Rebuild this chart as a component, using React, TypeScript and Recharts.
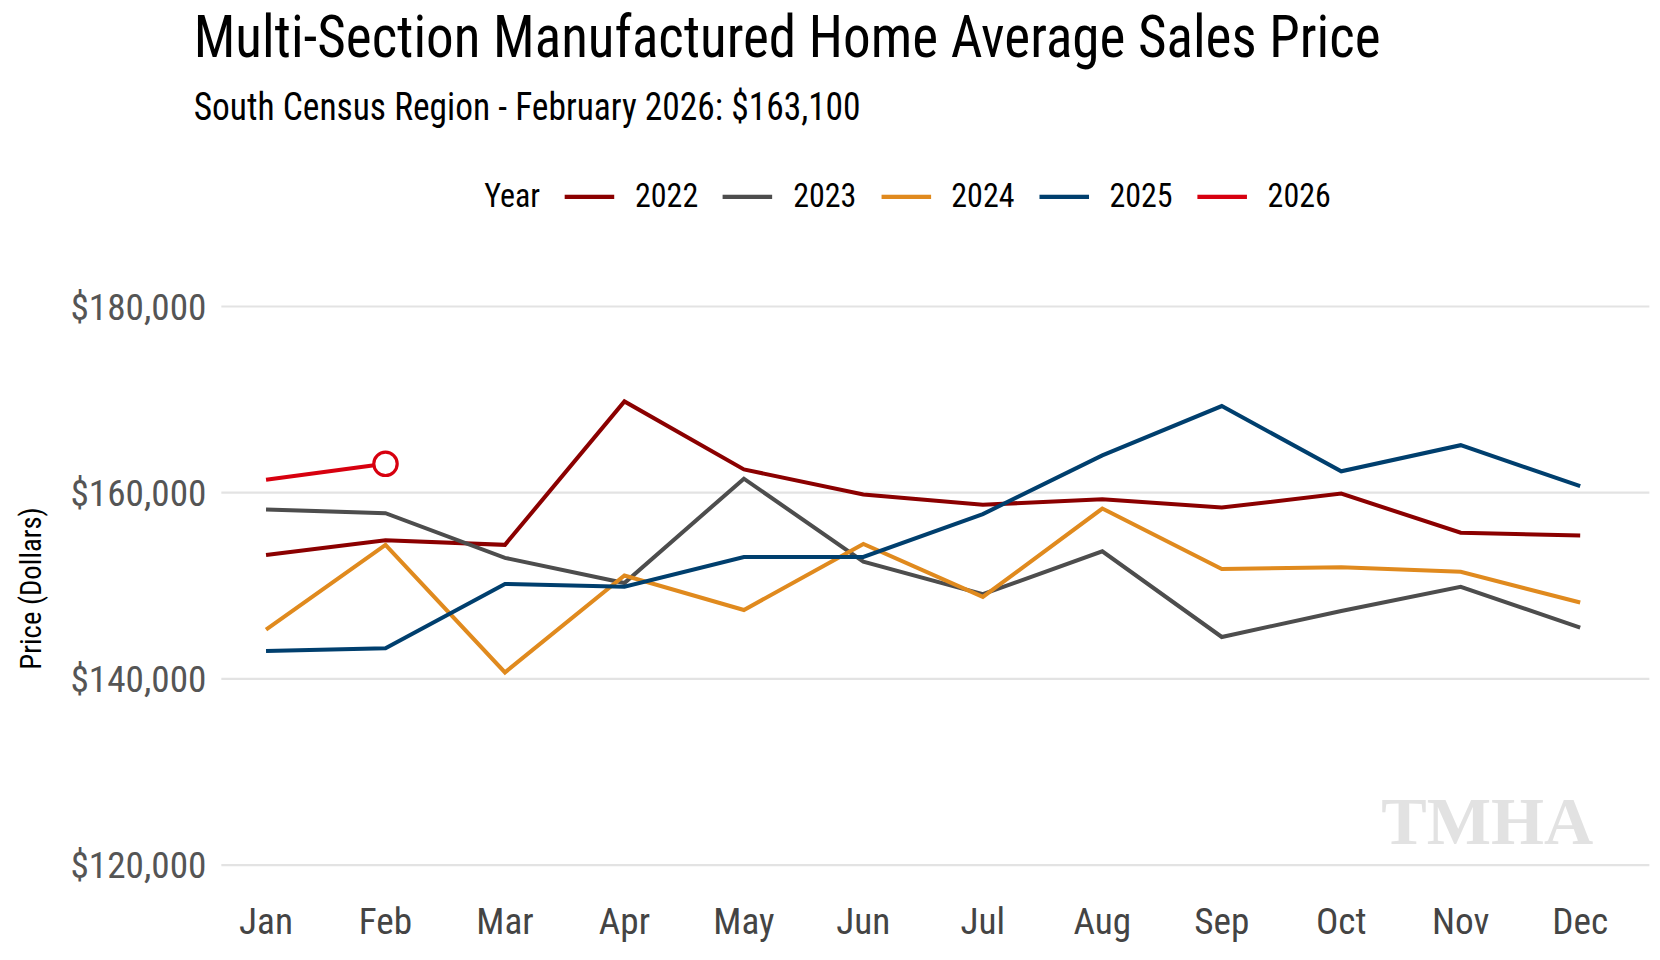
import { LineChart, Line, XAxis, YAxis, CartesianGrid } from 'recharts';

const months = ['Jan', 'Feb', 'Mar', 'Apr', 'May', 'Jun', 'Jul', 'Aug', 'Sep', 'Oct', 'Nov', 'Dec'];
const y2022 = [153300, 154900, 154400, 169800, 162500, 159800, 158700, 159300, 158400, 159900, 155700, 155400];
const y2023 = [158200, 157800, 153000, 150300, 161500, 152600, 149100, 153700, 144500, 147300, 149900, 145500];
const y2024 = [145300, 154400, 140700, 151100, 147400, 154500, 148800, 158300, 151800, 152000, 151500, 148200];
const y2025 = [143000, 143300, 150200, 149900, 153100, 153100, 157700, 164000, 169300, 162300, 165100, 160700];
const y2026 = [161400, 163100];
const yTicks = [120000, 140000, 160000, 180000];

const series = [
  { key: 'y2022', name: '2022', color: '#8b0000' },
  { key: 'y2023', name: '2023', color: '#4d4d4d' },
  { key: 'y2024', name: '2024', color: '#e08a1e' },
  { key: 'y2025', name: '2025', color: '#003f6e' },
  { key: 'y2026', name: '2026', color: '#d7000f' },
];

const data = months.map((m, i) => ({
  month: m,
  y2022: y2022[i],
  y2023: y2023[i],
  y2024: y2024[i],
  y2025: y2025[i],
  y2026: y2026[i],
}));

const FONT = '"Liberation Sans Narrow", "Roboto Condensed", Roboto, sans-serif';
const fmt = (v: number) => '$' + v.toLocaleString('en-US');

const LastDot = (props: any) => {
  const { cx, cy, index } = props;
  if (index !== y2026.length - 1) return null;
  return <circle cx={cx} cy={cy} r={11} fill="#fff" stroke="#d7000f" strokeWidth={3} />;
};

export default function App() {
  return (
    <div style={{ width: 1660, height: 960, margin: -8, overflow: 'hidden', background: '#fff' }}>
      <div
        style={{
          position: 'relative',
          width: 1560,
          height: 902,
          fontFamily: FONT,
          transform: 'scale(1.0641)',
          transformOrigin: 'top left',
        }}
      >
        <div style={{ position: 'absolute', left: 182, top: 2, fontSize: 56, color: '#000', whiteSpace: 'nowrap', transform: 'scaleX(0.925)', transformOrigin: 'left' }}>
          Multi-Section Manufactured Home Average Sales Price
        </div>
        <div style={{ position: 'absolute', left: 182, top: 80, fontSize: 36, color: '#000', whiteSpace: 'nowrap', transform: 'scaleX(0.925)', transformOrigin: 'left' }}>
          South Census Region - February 2026: $163,100
        </div>
        <div style={{ position: 'absolute', left: 455, top: 166, fontSize: 31, display: 'flex', alignItems: 'center', whiteSpace: 'nowrap', transform: 'scaleX(0.97)', transformOrigin: 'left' }}>
          <span style={{ marginRight: 24 }}>Year</span>
          {series.map((s) => (
            <span key={s.key} style={{ display: 'flex', alignItems: 'center', marginRight: 24 }}>
              <span style={{ width: 48, height: 4, background: s.color, display: 'inline-block', marginRight: 20 }} />
              {s.name}
            </span>
          ))}
        </div>
        <div style={{ position: 'absolute', left: 1298, top: 735, fontSize: 64, fontWeight: 'bold', fontFamily: 'serif', color: '#e2e2e2' }}>
          TMHA
        </div>
        <div style={{ position: 'absolute', left: 30, top: 553, fontSize: 27, transform: 'translate(-50%,-50%) rotate(-90deg)', whiteSpace: 'nowrap' }}>
          Price (Dollars)
        </div>
        <div style={{ position: 'absolute', left: 0, top: 0 }}>
          <LineChart width={1560} height={902} data={data} margin={{ top: 288, right: 10, bottom: 12, left: 8 }}>
            <CartesianGrid vertical={false} stroke="#e3e3e3" strokeWidth={2} />
            <XAxis
              dataKey="month"
              axisLine={false}
              tickLine={false}
              height={77}
              padding={{ left: 42, right: 65 }}
              tick={{ fontSize: 35, fill: '#444', fontFamily: FONT }}
              tickMargin={34}
            />
            <YAxis
              domain={[120000, 180000]}
              ticks={yTicks}
              width={200}
              axisLine={false}
              tickLine={false}
              tickFormatter={fmt}
              tick={{ fontSize: 35, fill: '#555', fontFamily: FONT }}
              tickMargin={8}
            />
            {series.map((s) => (
              <Line
                key={s.key}
                dataKey={s.key}
                stroke={s.color}
                strokeWidth={3.8}
                dot={s.key === 'y2026' ? <LastDot /> : false}
                activeDot={false}
                isAnimationActive={false}
              />
            ))}
          </LineChart>
        </div>
      </div>
    </div>
  );
}
